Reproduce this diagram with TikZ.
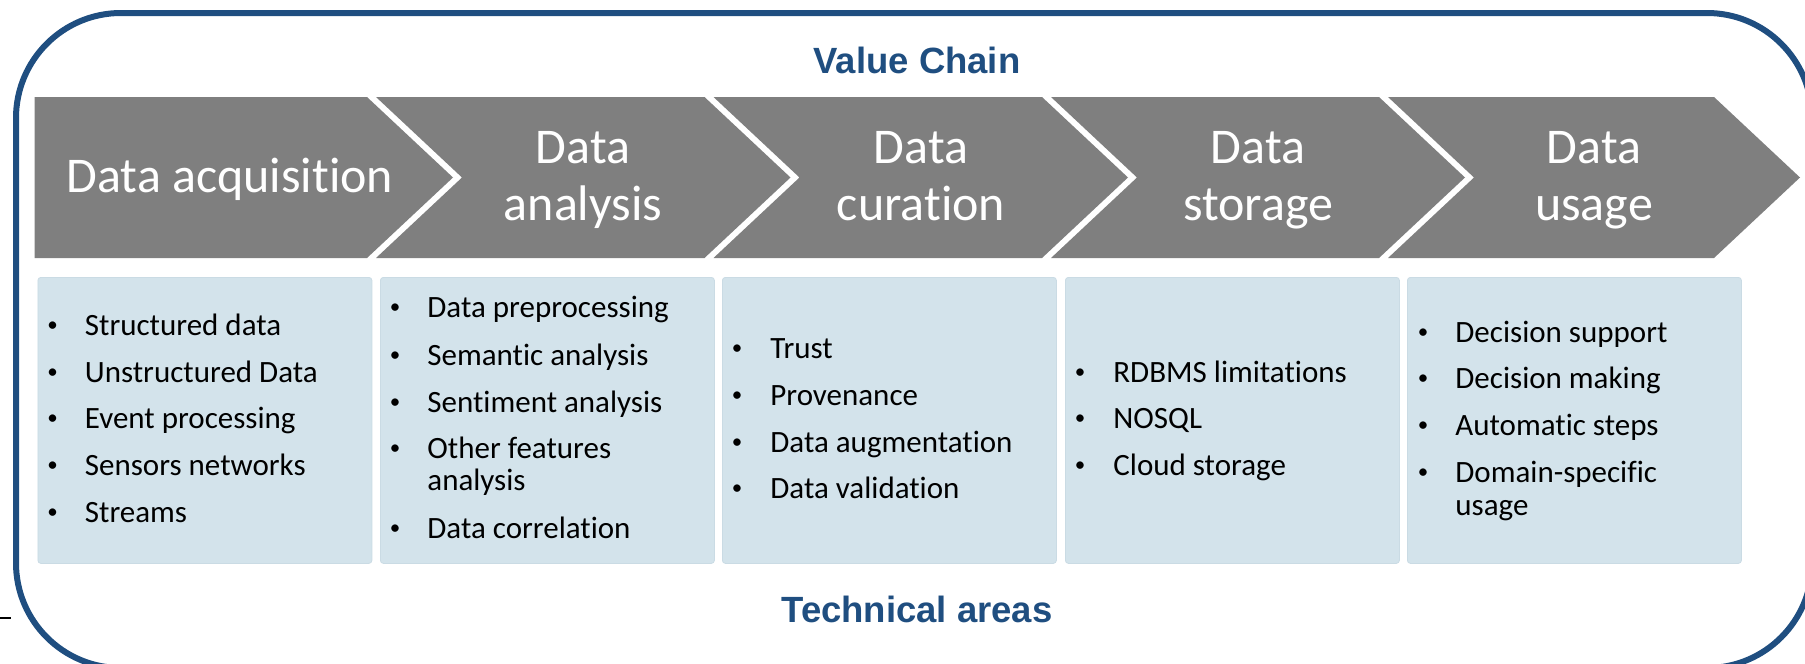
\documentclass[tikz,border=0pt]{standalone}
\usepackage{fontspec}
\setmainfont{Carlito}[Ligatures=CommonOff, RawFeature={-liga;-clig;-calt;-dlig}]
\newfontfamily\arialfont{Liberation Sans}
\definecolor{chevgray}{HTML}{7F7F7F}
\definecolor{boxblue}{HTML}{D3E3EB}
\definecolor{boxedge}{HTML}{CADBE4}
\definecolor{darkblue}{HTML}{1F4E80}
\begin{document}
\begin{tikzpicture}[x=0.5pt,y=-0.5pt,
  chev/.style={fill=chevgray, draw=none},
  chevtext/.style={text=white, font=\fontsize{25}{28.5}\selectfont, anchor=base, inner sep=0pt},
  area/.style={fill=boxblue, draw=boxedge, line width=0.4pt, rounded corners=1.5pt},
  item/.style={anchor=base west, font=\fontsize{15.5}{17}\selectfont, inner sep=0pt},
  dot/.style={anchor=base, font=\fontsize{10.5}{12}\selectfont, inner sep=0pt},
  heading/.style={text=darkblue, font=\arialfont\bfseries\fontsize{18.25}{20}\selectfont, anchor=base, inner sep=0pt},
  frame/.style={draw=darkblue, line width=3pt, rounded corners=52.5pt}
]
\useasboundingbox (0,0) rectangle (1805,664);
\clip (0,0) rectangle (1805,664);

% outer frame
\draw[frame] (16,13) rectangle (1812,668);
\draw[black, line width=1pt] (0,618) -- (11,618);

% chevrons
\fill[chev] (34.5,97) -- (367,97) -- (453,177.5) -- (367,258) -- (34.5,258) -- cycle;
\fill[chev] (376,97) -- (704.5,97) -- (790.5,177.5) -- (704.5,258) -- (376,258) -- (462,177.5) -- cycle;
\fill[chev] (713.5,97) -- (1042,97) -- (1128,177.5) -- (1042,258) -- (713.5,258) -- (799.5,177.5) -- cycle;
\fill[chev] (1051,97) -- (1379,97) -- (1465,177.5) -- (1379,258) -- (1051,258) -- (1137,177.5) -- cycle;
\fill[chev] (1388,97) -- (1714,97) -- (1800,177.5) -- (1714,258) -- (1388,258) -- (1474,177.5) -- cycle;

\node[chevtext] (c1) at (230,192) {Data acquisition};
\node[chevtext] (c2a) at (583,163) {Data};
\node[chevtext] (c2b) at (583,220) {analysis};
\node[chevtext] (c3a) at (921,163) {Data};
\node[chevtext] (c3b) at (921,220) {curation};
\node[chevtext] (c4a) at (1258,163) {Data};
\node[chevtext] (c4b) at (1258,220) {storage};
\node[chevtext] (c5a) at (1594,163) {Data};
\node[chevtext] (c5b) at (1594,220) {usage};

% headings
\node[heading] (vc) at (917,73) {Value Chain};
\node[heading] (ta) at (917,622) {Technical areas};

% boxes
\node[area, minimum width=167pt, minimum height=143pt, anchor=north west, inner sep=0pt] (b1) at (37.5,277) {};
\node[area, minimum width=167pt, minimum height=143pt, anchor=north west, inner sep=0pt] (b2) at (380,277) {};
\node[area, minimum width=167pt, minimum height=143pt, anchor=north west, inner sep=0pt] (b3) at (722,277) {};
\node[area, minimum width=167pt, minimum height=143pt, anchor=north west, inner sep=0pt] (b4) at (1065,277) {};
\node[area, minimum width=167pt, minimum height=143pt, anchor=north west, inner sep=0pt] (b5) at (1407,277) {};

\newcommand\bul{\raisebox{1.6pt}{•}}
% box 1
\foreach \y/\t [count=\i] in {335/Structured data, 382/Unstructured Data, 428/Event processing, 475/Sensors networks, 522/Streams}{
  \node[dot] (d1\i) at (52.5,\y) {\bul};
  \node[item] (t1\i) at (84.5,\y) {\t};
}
% box 2
\foreach \y/\t [count=\i] in {317/Data preprocessing, 365/Semantic analysis, 412/Sentiment analysis, 458/Other features, 538/Data correlation}{
  \node[dot] (d2\i) at (395,\y) {\bul};
  \node[item] (t2\i) at (427,\y) {\t};
}
\node[item] (t2x) at (427,490) {analysis};
% box 3
\foreach \y/\t [count=\i] in {358/Trust, 405/Provenance, 452/Data augmentation, 498/Data validation}{
  \node[dot] (d3\i) at (737,\y) {\bul};
  \node[item] (t3\i) at (770,\y) {\t};
}
% box 4
\foreach \y/\t [count=\i] in {382/RDBMS limitations, 428/NOSQL, 475/Cloud storage}{
  \node[dot] (d4\i) at (1080,\y) {\bul};
  \node[item] (t4\i) at (1113,\y) {\t};
}
% box 5
\foreach \y/\t [count=\i] in {342/Decision support, 388/Decision making, 435/Automatic steps, 482/Domain-specific}{
  \node[dot] (d5\i) at (1423,\y) {\bul};
  \node[item] (t5\i) at (1455,\y) {\t};
}
\node[item] (t5x) at (1455,515) {usage};
\end{tikzpicture}
\end{document}
